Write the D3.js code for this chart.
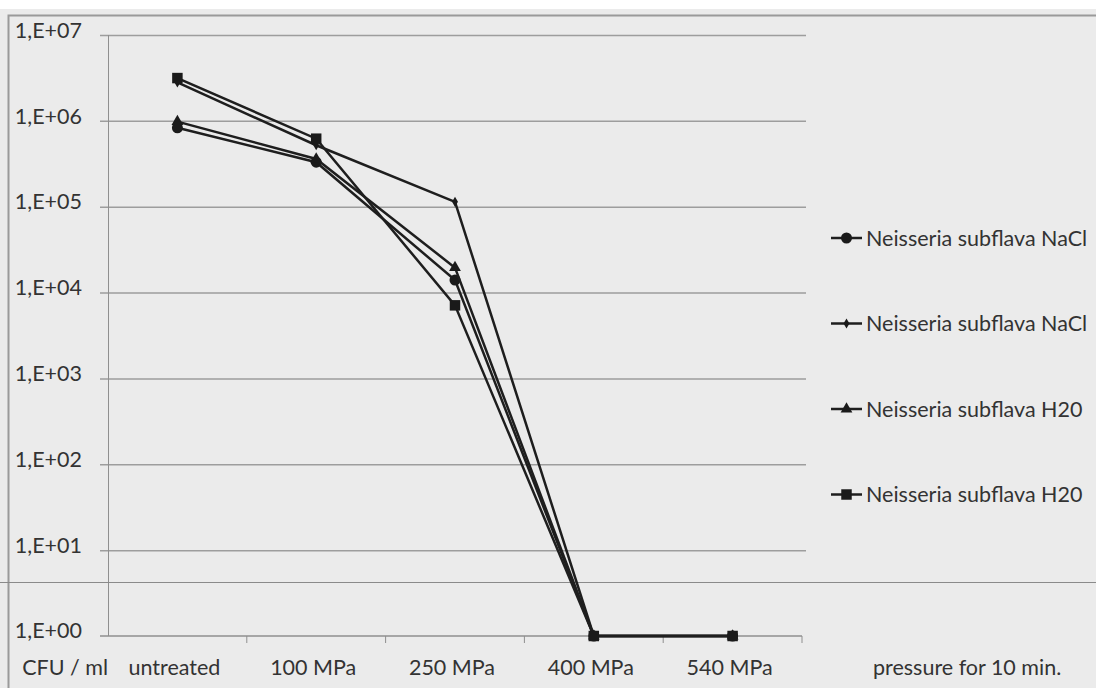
<!DOCTYPE html>
<html>
<head>
<meta charset="utf-8">
<script src="https://cdn.jsdelivr.net/npm/d3@7"></script>
<style>
  body { margin: 0; background: #fff; }
  svg text { font-family: Lato, "Open Sans", sans-serif; fill: #333; }
</style>
</head>
<body>
<svg id="viz"></svg>
<script>
// chart size
var width = 1096,
	height = 688;
var fontSize = 21.5;

// categories on the x axis
var categories = ["untreated", "100 MPa", "250 MPa", "400 MPa", "540 MPa"];

// y tick labels (log scale, decades)
var yTicks = [1, 10, 100, 1000, 10000, 100000, 1000000, 10000000];
var yLabels = ["1,E+00", "1,E+01", "1,E+02", "1,E+03", "1,E+04", "1,E+05", "1,E+06", "1,E+07"];

// CFU / ml per series
var naclCircle = [830000, 330000, 14000, 1, 1];
var naclDiamond = [2800000, 520000, 114000, 1, 1];
var h2oTriangle = [980000, 360000, 19500, 1, 1];
var h2oSquare = [3150000, 620000, 7100, 1, 1];

var seriesNames = ["Neisseria subflava NaCl", "Neisseria subflava NaCl", "Neisseria subflava H20", "Neisseria subflava H20"];
var seriesSymbols = [d3.symbolCircle, d3.symbolDiamond, d3.symbolTriangle, d3.symbolSquare];
var seriesSizes = [95, 30, 60, 110];
var seriesValues = [naclCircle, naclDiamond, h2oTriangle, h2oSquare];

var svg = d3.select("#viz").attr("width", width).attr("height", height);

// paper background and frame
svg.append("rect").attr("width", width).attr("height", height).attr("fill", "#fff");
svg.append("rect").attr("x", 0).attr("y", 9).attr("width", width).attr("height", height - 9).attr("fill", "#ebebeb");
svg.append("path")
	.attr("d", "M8.5," + height + "V15.5H" + width)
	.attr("fill", "none").attr("stroke", "#9a9a9a").attr("stroke-width", 2);

// scales
var x = d3.scaleBand().domain(categories).range([108, 802]);
var y = d3.scaleLog().domain([1, 1e7]).range([636, 35]);

// horizontal gridlines with outward ticks
svg.append("g")
	.attr("transform", "translate(108,0)")
	.call(d3.axisLeft(y).tickValues(yTicks.slice(1)).tickSize(-698).tickSizeOuter(0)
		.tickFormat(function(d) { return yLabels[yTicks.indexOf(d)]; }))
	.call(function(g) {
		g.select(".domain").remove();
		g.selectAll(".tick line").attr("x1", -8).attr("stroke", "#9d9d9d").attr("stroke-width", 1.5);
		g.selectAll(".tick text").attr("font-size", fontSize).attr("fill", "#333")
			.attr("font-family", "Lato, sans-serif").attr("x", -26).attr("dy", "0.1em");
	});

// y axis line
svg.append("line")
	.attr("x1", 108.5).attr("x2", 108.5).attr("y1", y(1e7)).attr("y2", y(1))
	.attr("stroke", "#8f8f8f").attr("stroke-width", 1);

// x axis with tick marks at band edges
var xAxis = svg.append("g").attr("transform", "translate(0," + y(1) + ")");
xAxis.append("line").attr("x1", 100).attr("x2", 802).attr("stroke", "#8f8f8f").attr("stroke-width", 1.5);
xAxis.selectAll(".edge")
	.data(categories.slice(1).concat(["end"]))
	.enter().append("line")
	.attr("x1", function(d, i) { return i < categories.length - 1 ? x(d) : x.range()[1]; })
	.attr("x2", function(d, i) { return i < categories.length - 1 ? x(d) : x.range()[1]; })
	.attr("y1", 0).attr("y2", 7)
	.attr("stroke", "#8f8f8f");
xAxis.selectAll(".lab")
	.data(categories)
	.enter().append("text")
	.attr("x", function(d) { return x(d) + x.bandwidth() / 2 - 3; })
	.attr("y", 39)
	.attr("text-anchor", "middle")
	.attr("font-size", fontSize)
	.text(function(d) { return d; });

// bottom left y label, axis titles
svg.append("text").attr("x", 82).attr("y", y(1)).attr("dy", "0.1em").attr("text-anchor", "end").attr("font-size", fontSize).text("1,E+00");
svg.append("text").attr("x", 108).attr("y", 675).attr("text-anchor", "end").attr("font-size", fontSize).text("CFU / ml");
svg.append("text").attr("x", 873).attr("y", 675).attr("font-size", fontSize).text("pressure for 10 min.");

// scan fold line
svg.append("line").attr("x1", 0).attr("x2", width).attr("y1", 582.5).attr("y2", 582.5)
	.attr("stroke", "#8a8a8a").attr("stroke-width", 1);

// series lines and markers
var line = d3.line()
	.x(function(d, i) { return x(categories[i]) + x.bandwidth() / 2; })
	.y(function(d) { return y(d); });

var seriesG = svg.append("g").attr("class", "series")
	.selectAll("g")
	.data(seriesValues)
	.enter().append("g");

seriesG.append("path")
	.attr("d", function(d) { return line(d); })
	.attr("fill", "none").attr("stroke", "#1e1e1e").attr("stroke-width", 2.5);

seriesG.each(function(vals, s) {
	d3.select(this).selectAll("path.pt")
		.data(vals)
		.enter().append("path")
		.attr("class", "pt")
		.attr("d", d3.symbol().type(seriesSymbols[s]).size(seriesSizes[s]))
		.attr("transform", function(d, i) {
			return "translate(" + (x(categories[i]) + x.bandwidth() / 2) + "," + y(d) + ")";
		})
		.attr("fill", "#1a1a1a");
});

// legend
var legend = svg.append("g").attr("class", "legend")
	.selectAll("g")
	.data(seriesNames)
	.enter().append("g")
	.attr("transform", function(d, i) { return "translate(831," + (238 + i * 85.5) + ")"; });
legend.append("line").attr("x1", 0).attr("x2", 31).attr("stroke", "#1e1e1e").attr("stroke-width", 2.5);
legend.append("path")
	.attr("d", function(d, i) { return d3.symbol().type(seriesSymbols[i]).size(seriesSizes[i])(); })
	.attr("transform", "translate(15.5,0)")
	.attr("fill", "#1a1a1a");
legend.append("text").attr("x", 35).attr("dy", "0.35em").attr("font-size", fontSize).text(function(d) { return d; });
</script>
</body>
</html>
